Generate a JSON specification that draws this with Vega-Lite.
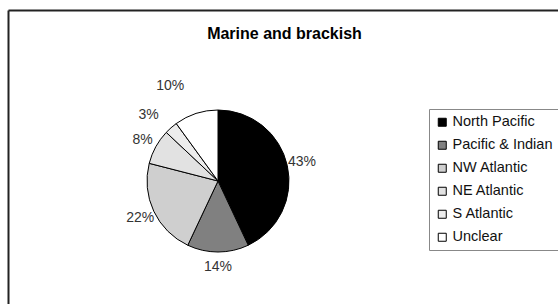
{
  "$schema": "https://vega.github.io/schema/vega-lite/v6.json",
  "autosize": {"type": "none"},
  "padding": {"left": 8, "top": 10, "right": 0, "bottom": 0},
  "width": 560,
  "height": 300,
  "background": "white",
  "config": {
    "view": {"stroke": null},
    "font": "Liberation Sans"
  },
  "data": {
    "values": [
      {"id": 1, "region": "North Pacific", "share": 0.43},
      {"id": 2, "region": "Pacific & Indian", "share": 0.14},
      {"id": 3, "region": "NW Atlantic", "share": 0.22},
      {"id": 4, "region": "NE Atlantic", "share": 0.08},
      {"id": 5, "region": "S Atlantic", "share": 0.03},
      {"id": 6, "region": "Unclear", "share": 0.10}
    ]
  },
  "layer": [
    {
      "mark": {"type": "point", "opacity": 0},
      "encoding": {
        "x": {"datum": 0, "type": "quantitative", "scale": {"domain": [0, 1]},
              "axis": {"orient": "top", "title": "Marine and brackish", "titleFont": "Liberation Sans", "titleFontSize": 16, "titleFontWeight": "bold", "titleColor": "black", "titleX": 276, "titleY": 28, "titleAlign": "center", "titleBaseline": "alphabetic", "titleAngle": 0,
                       "labels": false, "ticks": false, "grid": false, "domain": true, "domainColor": "#222", "domainWidth": 2}},
        "y": {"datum": 0, "type": "quantitative", "scale": {"domain": [0, 1]},
              "axis": {"orient": "left", "title": null, "labels": false, "ticks": false, "grid": false, "domain": true, "domainColor": "#222", "domainWidth": 2}}
      }
    },
    {
      "mark": {"type": "arc", "x": 210, "y": 171, "outerRadius": 71, "stroke": "black", "strokeWidth": 1},
      "encoding": {
        "theta": {"field": "share", "type": "quantitative", "stack": true},
        "order": {"field": "id", "type": "quantitative"},
        "color": {
          "field": "region",
          "type": "nominal",
          "sort": ["North Pacific", "Pacific & Indian", "NW Atlantic", "NE Atlantic", "S Atlantic", "Unclear"],
          "scale": {
            "domain": ["North Pacific", "Pacific & Indian", "NW Atlantic", "NE Atlantic", "S Atlantic", "Unclear"],
            "range": ["#000000", "#808080", "#cfcfcf", "#e2e2e2", "#ececec", "#ffffff"]
          },
          "legend": {
            "title": null,
            "orient": "none",
            "legendX": 421,
            "legendY": 99,
            "symbolType": "square",
            "symbolSize": 64,
            "symbolStrokeColor": "black",
            "symbolStrokeWidth": 1,
            "symbolOpacity": 1,
            "labelFont": "Liberation Sans",
            "labelFontSize": 14.5,
            "labelColor": "#111",
            "labelOffset": 3,
            "rowPadding": 8,
            "padding": 6,
            "fillColor": "white",
            "strokeColor": "#888",
            "labelLimit": 200
          }
        }
      }
    },
    {
      "mark": {"type": "text", "x": 210, "y": 171, "radius": 86, "fontSize": 14, "font": "Liberation Sans", "color": "#333", "align": "center", "baseline": "middle"},
      "encoding": {
        "theta": {"field": "share", "type": "quantitative", "stack": true},
        "order": {"field": "id", "type": "quantitative"},
        "text": {
          "condition": {"test": "datum.id <= 4", "field": "share", "format": ".0%"},
          "value": ""
        }
      }
    },
    {
      "mark": {"type": "text", "x": 210, "y": 171, "radius": 96, "dx": -6, "dy": 6, "fontSize": 14, "font": "Liberation Sans", "color": "#333", "align": "center", "baseline": "middle"},
      "encoding": {
        "theta": {"field": "share", "type": "quantitative", "stack": true},
        "order": {"field": "id", "type": "quantitative"},
        "text": {
          "condition": {"test": "datum.id == 5", "field": "share", "format": ".0%"},
          "value": ""
        }
      }
    },
    {
      "mark": {"type": "text", "x": 210, "y": 171, "radius": 106, "dx": -15, "dy": 6, "fontSize": 14, "font": "Liberation Sans", "color": "#333", "align": "center", "baseline": "middle"},
      "encoding": {
        "theta": {"field": "share", "type": "quantitative", "stack": true},
        "order": {"field": "id", "type": "quantitative"},
        "text": {
          "condition": {"test": "datum.id == 6", "field": "share", "format": ".0%"},
          "value": ""
        }
      }
    }
  ]
}
